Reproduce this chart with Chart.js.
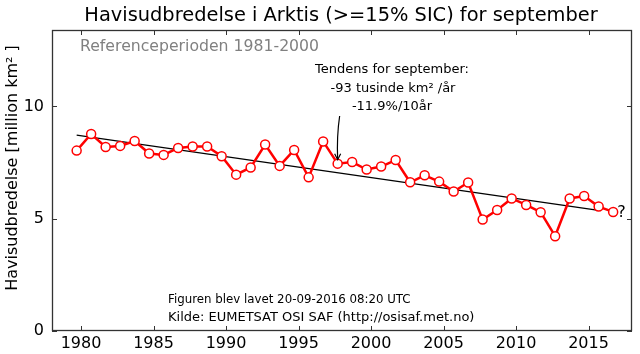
<!DOCTYPE html>
<html>
<head>
<meta charset="utf-8">
<script src="https://cdn.jsdelivr.net/npm/chart.js@4.4.0/dist/chart.umd.min.js"></script>
<style>
  html, body { margin: 0; padding: 0; background: #fff; }
  #wrap { width: 640px; height: 354px; }
</style>
</head>
<body>
<div id="wrap"><canvas id="iceChart" width="640" height="354"></canvas></div>
<script>
// September sea ice extent, Arctic (million km2)
const years = [1979, 1980, 1981, 1982, 1983, 1984, 1985, 1986, 1987, 1988, 1989, 1990, 1991,
               1992, 1993, 1994, 1995, 1996, 1997, 1998, 1999, 2000, 2001, 2002, 2003,
               2004, 2005, 2006, 2007, 2008, 2009, 2010, 2011, 2012, 2013, 2014, 2015, 2016];
const extent = [8.03, 8.77, 8.19, 8.24, 8.46, 7.90, 7.84, 8.15, 8.21, 8.21, 7.78, 6.96, 7.28,
                8.30, 7.35, 8.06, 6.84, 8.44, 7.45, 7.52, 7.19, 7.32, 7.61, 6.62, 6.93,
                6.65, 6.21, 6.61, 4.96, 5.39, 5.90, 5.61, 5.29, 4.22, 5.90, 6.01, 5.54, 5.30];
const trendYears = [1979, 2015];
const trendValues = [8.72, 5.37];
const xTicks = [1980, 1985, 1990, 1995, 2000, 2005, 2010, 2015];
const yTicks = [0, 5, 10];
const arrowYear = 1997;

const SEPT = 0.7; // september sits ~0.7 into the year
const FONT = "'DejaVu Sans', sans-serif";

const series = years.map((y, i) => ({ x: y + SEPT, y: extent[i] }));
const trend = trendYears.map((y, i) => ({ x: y + SEPT, y: trendValues[i] }));

// frame, inward ticks, texts and arrow
const decorPlugin = {
    id: 'decor',
    afterDraw(chart) {
        const ctx = chart.ctx;
        const a = chart.chartArea;
        const xs = chart.scales.x, ys = chart.scales.y;
        ctx.save();
        ctx.strokeStyle = '#333';
        ctx.lineWidth = 1.3;
        ctx.strokeRect(a.left + 0.5, a.top + 0.5, a.right - a.left - 1, a.bottom - a.top - 1);
        ctx.beginPath();
        ctx.lineWidth = 1;
        xTicks.forEach(t => {
            const px = Math.round(xs.getPixelForValue(t)) + 0.5;
            ctx.moveTo(px, a.bottom); ctx.lineTo(px, a.bottom - 5);
            ctx.moveTo(px, a.top); ctx.lineTo(px, a.top + 5);
        });
        yTicks.forEach(t => {
            const py = Math.round(ys.getPixelForValue(t)) + 0.5;
            ctx.moveTo(a.left, py); ctx.lineTo(a.left + 5, py);
            ctx.moveTo(a.right, py); ctx.lineTo(a.right - 5, py);
        });
        ctx.stroke();

        // title
        ctx.fillStyle = '#000';
        ctx.textAlign = 'center';
        ctx.textBaseline = 'middle';
        ctx.font = '19.4px ' + FONT;
        ctx.fillText('Havisudbredelse i Arktis (>=15% SIC) for september', 341, 16);

        // y label
        ctx.save();
        ctx.translate(13, 168);
        ctx.rotate(-Math.PI / 2);
        ctx.font = '16px ' + FONT;
        ctx.fillText('Havisudbredelse [million km² ]', 0, 0);
        ctx.restore();

        // reference period
        ctx.textAlign = 'left';
        ctx.fillStyle = '#808080';
        ctx.font = '15.7px ' + FONT;
        ctx.fillText('Referenceperioden 1981-2000', 80, 47);

        // trend text
        ctx.fillStyle = '#000';
        ctx.textAlign = 'center';
        ctx.font = '13px ' + FONT;
        ctx.fillText('Tendens for september:', 392, 70);
        ctx.fillText('-93 tusinde km² /år', 393, 89);
        ctx.fillText('-11.9%/10år', 392, 107);

        // footer texts
        ctx.textAlign = 'left';
        ctx.font = '11.8px ' + FONT;
        ctx.fillText('Figuren blev lavet 20-09-2016 08:20 UTC', 168, 300);
        ctx.font = '13px ' + FONT;
        ctx.fillText('Kilde: EUMETSAT OSI SAF (http://osisaf.met.no)', 168, 318);

        // question mark after last point
        const last = series[series.length - 1];
        ctx.font = '16px ' + FONT;
        ctx.fillText('?', xs.getPixelForValue(last.x) + 4, ys.getPixelForValue(last.y) + 1);

        // arrow to the 1997 point
        const target = series[years.indexOf(arrowYear)];
        const tx = xs.getPixelForValue(target.x);
        const ty = ys.getPixelForValue(target.y) - 4;
        const sx = tx + 2, sy = 116;
        ctx.strokeStyle = '#000';
        ctx.beginPath();
        ctx.moveTo(sx, sy);
        ctx.quadraticCurveTo(tx - 1, sy + 20, tx, ty);
        ctx.lineWidth = 1.2;
        ctx.stroke();
        ctx.beginPath();
        ctx.moveTo(tx - 3, ty - 6);
        ctx.lineTo(tx, ty);
        ctx.lineTo(tx + 3, ty - 6);
        ctx.stroke();
        ctx.restore();
    }
};

const ctx = document.getElementById('iceChart').getContext('2d');
new Chart(ctx, {
    type: 'scatter',
    data: {
        datasets: [
            {
                label: 'Tendens',
                data: trend,
                showLine: true,
                borderColor: '#000',
                borderWidth: 1.2,
                pointRadius: 0,
                order: 2
            },
            {
                label: 'Havisudbredelse',
                data: series,
                showLine: true,
                borderColor: '#ff0000',
                borderWidth: 2.5,
                pointRadius: 4.5,
                pointBorderWidth: 1.5,
                pointBackgroundColor: '#fff',
                pointBorderColor: '#ff0000',
                order: 1
            }
        ]
    },
    options: {
        responsive: false,
        animation: false,
        layout: { padding: { top: 30, right: 8, left: 0, bottom: 0 } },
        plugins: {
            legend: { display: false },
            tooltip: { enabled: false }
        },
        scales: {
            x: {
                type: 'linear',
                min: 1978,
                max: 2018,
                afterFit(scale) { scale.height = 23; },
                afterBuildTicks(scale) { scale.ticks = xTicks.map(v => ({ value: v })); },
                grid: { display: false, drawTicks: false },
                border: { display: false },
                ticks: {
                    padding: 3,
                    color: '#000',
                    font: { family: FONT, size: 16 },
                    callback: v => String(v)
                }
            },
            y: {
                min: 0,
                max: 13.4,
                afterFit(scale) { scale.width = 52; },
                afterBuildTicks(scale) { scale.ticks = yTicks.map(v => ({ value: v })); },
                grid: { display: false, drawTicks: false },
                border: { display: false },
                ticks: {
                    padding: 8,
                    color: '#000',
                    font: { family: FONT, size: 16 },
                    callback: v => String(v)
                }
            }
        }
    },
    plugins: [decorPlugin]
});
</script>
</body>
</html>
